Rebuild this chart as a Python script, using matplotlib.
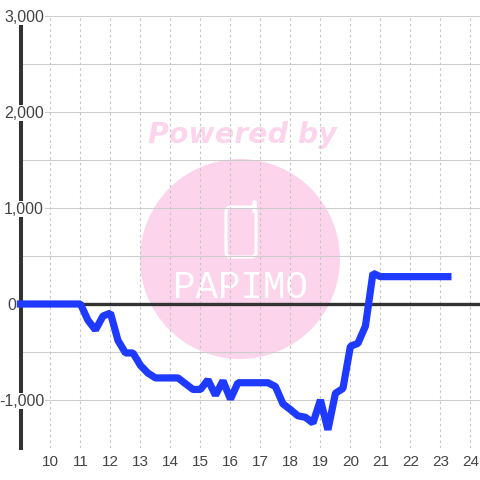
import matplotlib
matplotlib.use("Agg")
import matplotlib.pyplot as plt
from matplotlib.patches import Circle, FancyBboxPatch

plt.rcParams['font.family'] = ['Liberation Sans', 'DejaVu Sans']

# Chart data
hours = [9, 9.5, 10, 10.5, 11, 11.25, 11.5, 11.75, 12, 12.25, 12.5, 12.75, 13, 13.25, 13.5,
         13.75, 14, 14.25, 14.5, 14.75, 15, 15.25, 15.5, 15.75, 16, 16.25, 16.5, 16.75, 17,
         17.25, 17.5, 17.75, 18, 18.25, 18.5, 18.75, 19, 19.25, 19.5, 19.75, 20, 20.25, 20.5,
         20.75, 21, 21.5, 22, 22.5, 23, 23.25]
values = [0, 0, 0, 0, 0, -170, -270, -125, -95, -380, -510, -510, -640, -720, -770,
          -770, -770, -770, -830, -890, -890, -790, -950, -800, -990, -820, -820, -820, -820,
          -820, -860, -1040, -1100, -1165, -1180, -1240, -1000, -1310, -930, -880, -440, -410, -230,
          320, 285, 285, 285, 285, 285, 285]
x_ticks = list(range(10, 25))
y_ticks = [-1500, -1000, -500, 0, 500, 1000, 1500, 2000, 2500, 3000]
y_labels = {-1000: "-1,000", 0: "0", 1000: "1,000", 2000: "2,000", 3000: "3,000"}

pink = "#fcd5ec"
fig = plt.figure(figsize=(4.8, 4.8), dpi=100, facecolor="white")

# Watermark goes behind the chart, drawn in pixel coords
bg = fig.add_axes([0, 0, 1, 1])
bg.set_xlim(0, 480)
bg.set_ylim(480, 0)
bg.axis("off")
bg.add_patch(Circle((240, 259), 100, facecolor=pink, edgecolor="none"))
bg.text(242, 135, "Powered by", color=pink, fontsize=20.5, fontweight="bold", style="italic",
        ha="center", va="center", family=["DejaVu Sans"])
bg.add_patch(FancyBboxPatch((226, 207), 30, 50, boxstyle="round,pad=0,rounding_size=5",
                            facecolor="none", edgecolor="white", linewidth=2.2))
bg.plot([254, 254], [202, 210], color="white", lw=3.4, solid_capstyle="round")
bg.text(240, 288, "PAPIMO", color="white", fontsize=27, ha="center", va="center",
        family=["Liberation Mono"])

ax = fig.add_axes([20.5 / 480, 32 / 480, 459.5 / 480, 432 / 480])
ax.patch.set_alpha(0)
ax.set_xlim(9, 24.32)
ax.set_ylim(-1500, 3000)
for s in ax.spines.values():
    s.set_visible(False)

for v in y_ticks:
    ax.axhline(v, color="#cccccc", lw=0.75, zorder=1)
for h in x_ticks:
    ax.axvline(h, color="#c4c4c4", lw=0.8, ls=(0, (2.2, 2.8)), zorder=1)
ax.axvline(9, color="#333333", lw=2.9, ymax=(448 - 24) / 432, zorder=2, clip_on=False)
ax.axhline(0, color="#333333", lw=2.4, zorder=2)

ax.plot(hours, values, color="#1f3aff", lw=5.2, solid_joinstyle="bevel", solid_capstyle="projecting",
        zorder=3, clip_on=False)

ax.set_xticks(x_ticks)
ax.set_yticks([])
ax.tick_params(axis="x", length=0, pad=5, labelsize=11, labelcolor="#444444")

# Tick labels sit over the axis line, with a white box behind them
for v, label in y_labels.items():
    right = 16 if v == 0 else 44
    ax.annotate(label, xy=(right / 480, 1 - (305 - v * 0.096) / 480), xycoords="figure fraction",
                ha="right", va="center", fontsize=11.5, color="#444444", zorder=5,
                bbox=dict(facecolor="white", edgecolor="none", pad=0.6) if v != 0 else None)

fig.savefig("out.png", dpi=100)
